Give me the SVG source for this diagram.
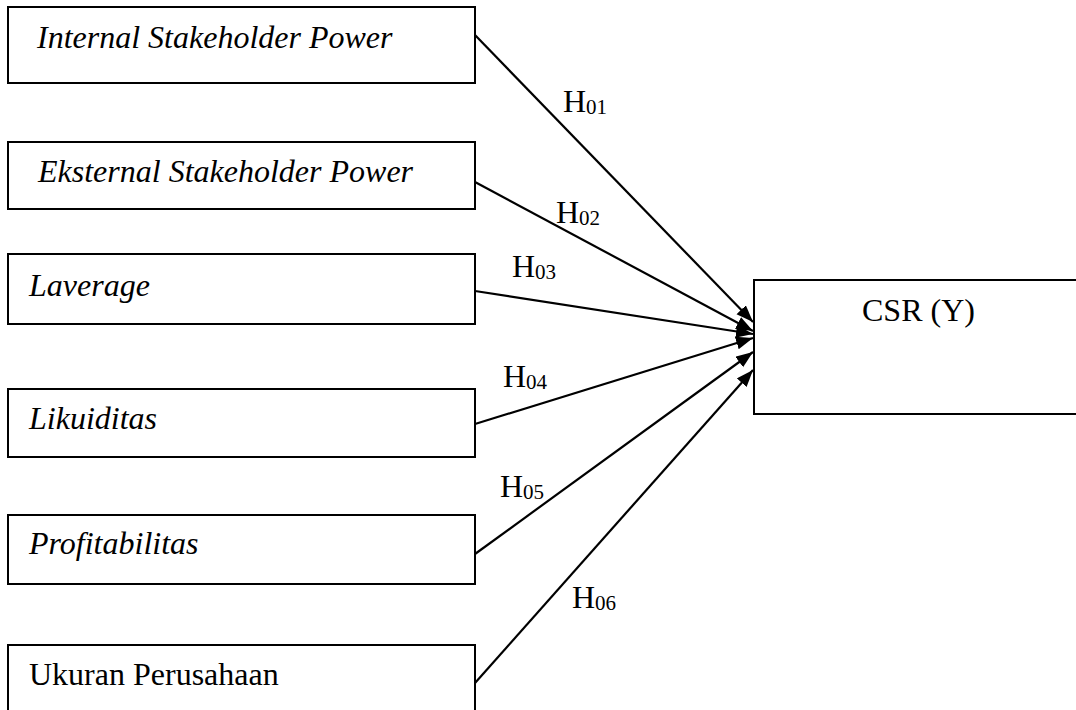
<svg xmlns="http://www.w3.org/2000/svg" width="1076" height="710" viewBox="0 0 1076 710">
<style>
.box{fill:#fff;stroke:#000;stroke-width:2}
.t{font-family:"Liberation Serif","Times New Roman",serif;font-size:32px;fill:#000}
.i{font-style:italic}
.lbl{font-family:"Liberation Serif","Times New Roman",serif;font-size:32px;fill:#000}
.sub{font-size:21px}
.c{stroke:#000;stroke-width:2.2;fill:none;marker-end:url(#ah)}
</style>
<defs>
<marker id="ah" markerUnits="userSpaceOnUse" markerWidth="18" markerHeight="14" refX="17" refY="6.5" orient="auto">
<path d="M0,0 L17,6.5 L0,13 z" fill="#000"/>
</marker>
</defs>
<rect width="1076" height="710" fill="#fff"/>
<g id="connectors">
<line class="c" x1="475" y1="35" x2="753" y2="322"/>
<line class="c" x1="475" y1="182" x2="753" y2="331"/>
<line class="c" x1="475" y1="291" x2="753" y2="334"/>
<line class="c" x1="475" y1="424" x2="753" y2="338"/>
<line class="c" x1="475" y1="554" x2="753" y2="352"/>
<line class="c" x1="475" y1="683" x2="753" y2="370"/>
<text class="lbl" x="563" y="112">H<tspan class="sub" dy="2">01</tspan></text>
<text class="lbl" x="556" y="223">H<tspan class="sub" dy="2">02</tspan></text>
<text class="lbl" x="512" y="277">H<tspan class="sub" dy="2">03</tspan></text>
<text class="lbl" x="503" y="387">H<tspan class="sub" dy="2">04</tspan></text>
<text class="lbl" x="500" y="497">H<tspan class="sub" dy="2">05</tspan></text>
<text class="lbl" x="572" y="608">H<tspan class="sub" dy="2">06</tspan></text>
</g>
<g id="node-internal">
<rect class="box" x="8" y="7" width="467" height="76"/>
<text class="t i" x="37" y="48">Internal Stakeholder Power</text>
</g>
<g id="node-eksternal">
<rect class="box" x="8" y="142" width="467" height="67"/>
<text class="t i" x="38" y="182">Eksternal Stakeholder Power</text>
</g>
<g id="node-laverage">
<rect class="box" x="8" y="254" width="467" height="70"/>
<text class="t i" x="29" y="296">Laverage</text>
</g>
<g id="node-likuiditas">
<rect class="box" x="8" y="389" width="467" height="68"/>
<text class="t i" x="29" y="429">Likuiditas</text>
</g>
<g id="node-profitabilitas">
<rect class="box" x="8" y="515" width="467" height="69"/>
<text class="t i" x="29" y="554">Profitabilitas</text>
</g>
<g id="node-ukuran">
<rect class="box" x="8" y="645" width="467" height="70"/>
<text class="t" x="29" y="685">Ukuran Perusahaan</text>
</g>
<g id="node-csr">
<rect class="box" x="754" y="280" width="330" height="134"/>
<text class="t" x="862" y="321">CSR (Y)</text>
</g>
</svg>
